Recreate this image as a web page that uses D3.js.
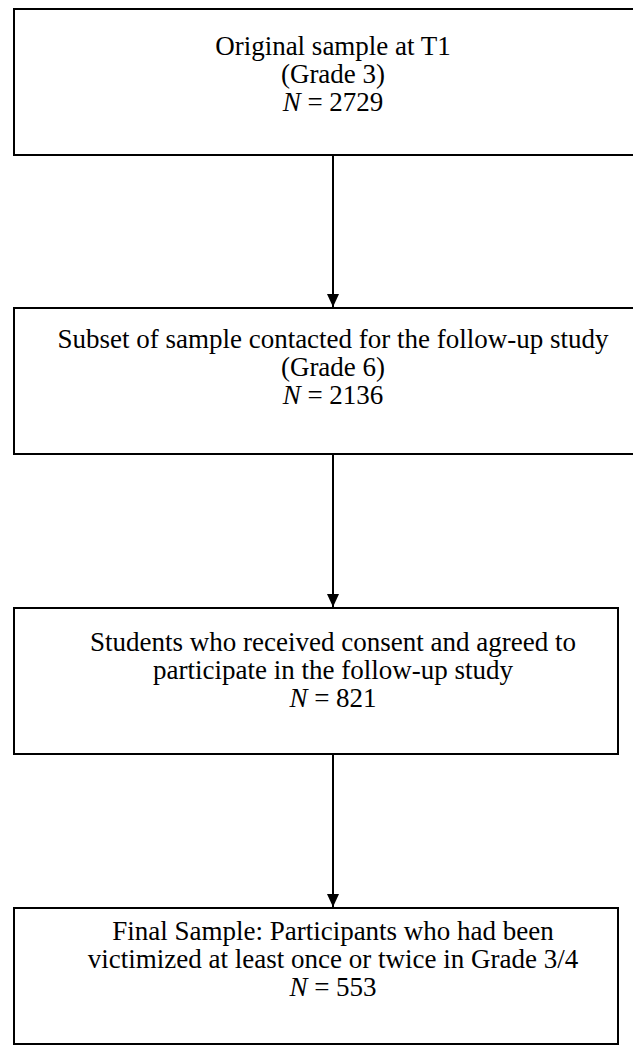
<!DOCTYPE html>
<html>
<head>
<meta charset="utf-8">
<script src="https://cdn.jsdelivr.net/npm/d3@7"></script>
<style>
  html, body { margin: 0; padding: 0; background: #fff; }
  svg { display: block; }
</style>
</head>
<body>
<script>
// ---- data ----
const stages = [
  ["Original sample at T1", "(Grade 3)"],
  ["Subset of sample contacted for the follow-up study", "(Grade 6)"],
  ["Students who received consent and agreed to", "participate in the follow-up study"],
  ["Final Sample: Participants who had been", "victimized at least once or twice in Grade 3/4"]
];
const sampleN = [2729, 2136, 821, 553];

// ---- layout ----
const W = 633, H = 1047;
const boxTop = [9, 308, 608, 908];
const boxBottom = [155, 454, 754, 1044];
const boxLeft = 14;
const boxRight = [645, 645, 618, 618];
const firstLine = [46, 40, 43, 32];
const cx = 333;
const fontSize = 27, lineGap = 28;

const svg = d3.select("body").append("svg").attr("width", W).attr("height", H);

svg.append("defs").append("marker")
  .attr("id", "ah").attr("viewBox", "0 0 12 13").attr("refX", 6).attr("refY", 13)
  .attr("markerUnits", "userSpaceOnUse").attr("markerWidth", 12).attr("markerHeight", 13)
  .attr("orient", "0")
  .append("path").attr("d", "M0,0 L12,0 L6,13 Z").attr("fill", "#000");

const idx = d3.range(stages.length);

svg.selectAll("rect.box").data(idx).join("rect")
  .attr("class", "box")
  .attr("x", boxLeft).attr("y", i => boxTop[i])
  .attr("width", i => boxRight[i] - boxLeft).attr("height", i => boxBottom[i] - boxTop[i])
  .attr("fill", "#fff").attr("stroke", "#000").attr("stroke-width", 2);

svg.selectAll("line.arrow").data(idx.slice(0, -1)).join("line")
  .attr("class", "arrow")
  .attr("x1", cx).attr("x2", cx)
  .attr("y1", i => boxBottom[i]).attr("y2", i => boxTop[i + 1] - 1)
  .attr("stroke", "#000").attr("stroke-width", 2)
  .attr("marker-end", "url(#ah)");

const txt = svg.selectAll("g.txt").data(idx).join("g").attr("class", "txt");
txt.each(function(i) {
  const g = d3.select(this);
  stages[i].forEach((s, k) => {
    g.append("text")
      .attr("x", cx).attr("y", boxTop[i] + firstLine[i] + k * lineGap)
      .attr("text-anchor", "middle")
      .attr("font-family", "'Liberation Serif', 'Times New Roman', serif")
      .attr("font-size", fontSize)
      .text(s);
  });
  const t = g.append("text")
    .attr("x", cx).attr("y", boxTop[i] + firstLine[i] + 2 * lineGap)
    .attr("text-anchor", "middle")
    .attr("font-family", "'Liberation Serif', 'Times New Roman', serif")
    .attr("font-size", fontSize);
  t.append("tspan").attr("font-style", "italic").text("N");
  t.append("tspan").text(" = " + sampleN[i]);
});
</script>
</body>
</html>
